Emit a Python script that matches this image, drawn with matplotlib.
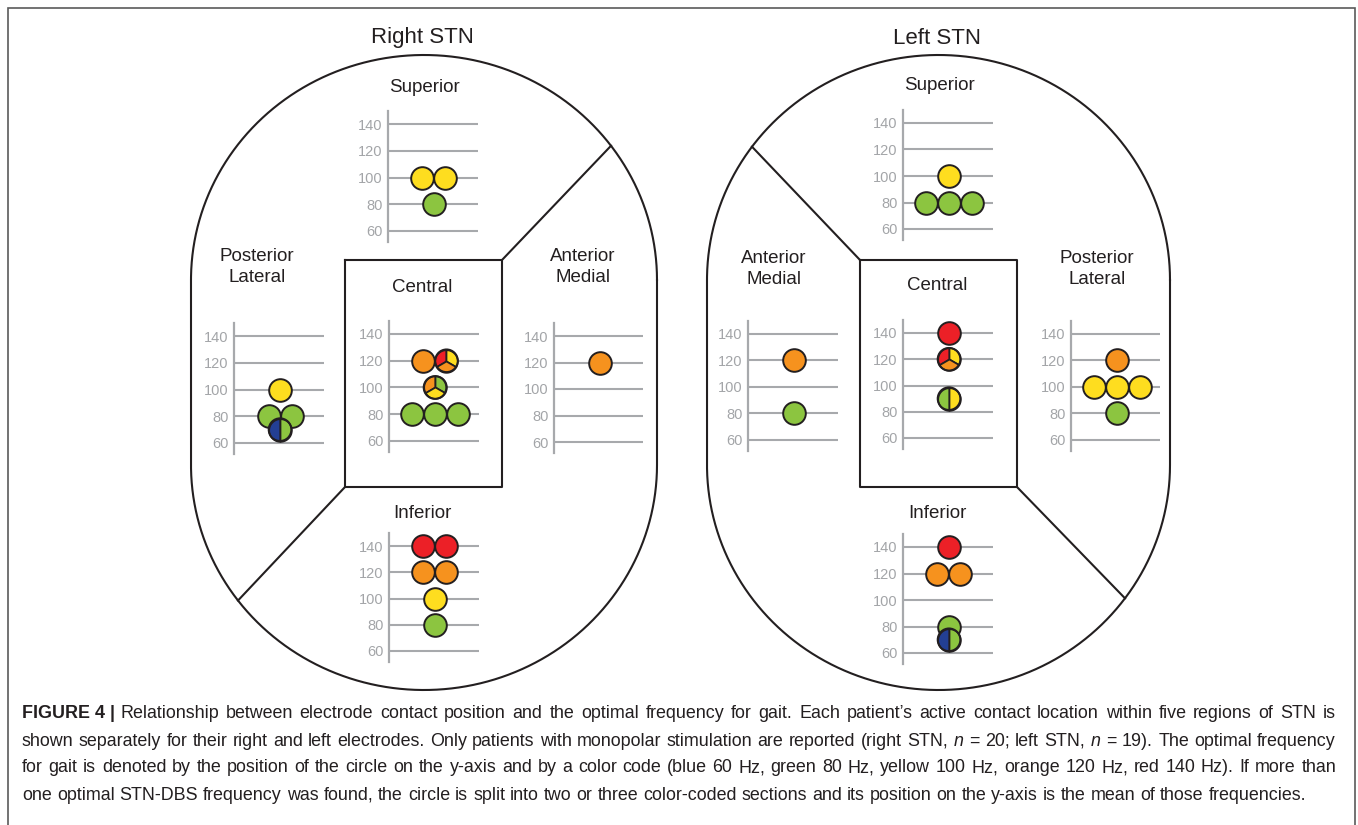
import numpy as np
import matplotlib
matplotlib.use('Agg')
import matplotlib.pyplot as plt
from matplotlib.path import Path

plt.rcParams['font.family'] = ['Liberation Sans', 'DejaVu Sans']
plt.rcParams['mathtext.fontset'] = 'custom'
plt.rcParams['mathtext.rm'] = 'Liberation Sans'
plt.rcParams['mathtext.it'] = 'Liberation Sans:italic'

W, H = 1358, 825

# ---------------- data ----------------
FREQ_TICKS = [60, 80, 100, 120, 140]
FREQ_COLORS = {60: '#233F94', 80: '#8CC540', 100: '#FEDD1F', 120: '#F6921E', 140: '#EC2027'}

# each circle = list of optimal frequencies (Hz) of one patient
# split circles: two parts -> [left, right]; three parts -> [upper-left, upper-right, bottom]
right_superior = [[100], [100], [80]]
right_posterior_lateral = [[100], [80], [80], [60, 80]]
right_central = [[120], [140, 100, 120], [120, 80, 100], [80], [80], [80]]
right_anterior_medial = [[120]]
right_inferior = [[140], [140], [120], [120], [100], [80]]

left_superior = [[100], [80], [80], [80]]
left_anterior_medial = [[120], [80]]
left_central = [[140], [140, 100, 120], [80, 100]]
left_posterior_lateral = [[120], [100], [100], [100], [80]]
left_inferior = [[140], [120], [120], [80], [60, 80]]

CAPTION_BOLD = "FIGURE 4 |"
CAPTION_LINES = [
    "Relationship between electrode contact position and the optimal frequency for gait. Each patient\u2019s active contact location within five regions of STN is",
    "shown separately for their right and left electrodes. Only patients with monopolar stimulation are reported (right STN, $n$ = 20; left STN, $n$ = 19). The optimal frequency",
    "for gait is denoted by the position of the circle on the y-axis and by a color code (blue 60 Hz, green 80 Hz, yellow 100 Hz, orange 120 Hz, red 140 Hz). If more than",
    "one optimal STN-DBS frequency was found, the circle is split into two or three color-coded sections and its position on the y-axis is the mean of those frequencies.",
]

# ---------------- layout ----------------
INK = '#231F20'
GRID = '#A7A9AC'
TICKC = '#A3A5A8'
SPACING = 23.0      # px between neighbouring circles
MS = 16.3           # marker diameter (pt)
ELW = 1.4

fig = plt.figure(figsize=(W / 100, H / 100), dpi=100)
bg = fig.add_axes([0, 0, 1, 1])
bg.set_xlim(0, W)
bg.set_ylim(H, 0)
bg.axis('off')

# outer frame
bg.plot([8, 8, 1355, 1355], [830, 8, 8, 830], color='#5A5A5A', lw=1.2, solid_joinstyle='miter')


def stadium(cx, rx, cyt, cyb, ry):
    t = np.linspace(0, np.pi, 200)
    xs = np.concatenate([cx + rx * np.cos(t), cx + rx * np.cos(t[::-1])])
    ys = np.concatenate([cyt - ry * np.sin(t), cyb + ry * np.sin(t[::-1])])
    xs = np.append(xs, xs[0]); ys = np.append(ys, ys[0])
    bg.plot(xs, ys, color=INK, lw=1.5)


def arc_y(cx, rx, cy, ry, x, top=True):
    c = (x - cx) / rx
    s = np.sqrt(max(0.0, 1 - c * c))
    return cy - ry * s if top else cy + ry * s


def box(x0, y0, x1, y1):
    bg.plot([x0, x1, x1, x0, x0], [y0, y0, y1, y1, y0], color=INK, lw=1.5)


# right STN outline
R = dict(cx=424, rx=233, cyt=280, cyb=465, ry=225)
stadium(R['cx'], R['rx'], R['cyt'], R['cyb'], R['ry'])
box(345, 260, 502, 487)
bg.plot([502, 611], [260, arc_y(R['cx'], R['rx'], R['cyt'], R['ry'], 611, True)], color=INK, lw=1.5)
bg.plot([345, 238], [487, arc_y(R['cx'], R['rx'], R['cyb'], R['ry'], 238, False)], color=INK, lw=1.5)

# left STN outline
L = dict(cx=938.5, rx=231.5, cyt=280, cyb=465, ry=225)
stadium(L['cx'], L['rx'], L['cyt'], L['cyb'], L['ry'])
box(860, 260, 1017, 487)
bg.plot([860, 752], [260, arc_y(L['cx'], L['rx'], L['cyt'], L['ry'], 752, True)], color=INK, lw=1.5)
bg.plot([1017, 1125], [487, arc_y(L['cx'], L['rx'], L['cyb'], L['ry'], 1125, False)], color=INK, lw=1.5)

# titles
TXT = dict(ha='center', va='center', color=INK)
bg.text(422, 37, 'Right STN', fontsize=16, **TXT)
bg.text(937, 38, 'Left STN', fontsize=16, **TXT)
for (x, y, s) in [(424, 87, 'Superior'), (257, 267, 'Posterior\nLateral'), (422, 287, 'Central'),
                  (583, 267, 'Anterior\nMedial'), (422, 513, 'Inferior'),
                  (939, 86, 'Superior'), (774, 269, 'Anterior\nMedial'), (937, 286, 'Central'),
                  (1097, 269, 'Posterior\nLateral'), (937, 514, 'Inferior')]:
    bg.text(x, y, s, fontsize=13.5, linespacing=1.3, **TXT)


def wedge_marker(a1, a2):
    ang = np.deg2rad(np.arange(a1, a2 + 1, 1.0))
    verts = np.vstack([[0, 0], np.column_stack([np.cos(ang), np.sin(ang)]), [0, 0]])
    codes = [Path.MOVETO] + [Path.LINETO] * (len(verts) - 2) + [Path.CLOSEPOLY]
    return Path(verts, codes)


def wedge_parts(n):
    if n == 2:
        return [(90, 270), (-90, 90)]
    return [(90, 210), (-30, 90), (210, 330)]


def draw_panel(circles, x0, y140, y60, x1):
    pxhz = (y60 - y140) / 80.0
    top_px = y140 - 13
    bot_px = y60 + 11
    ax = fig.add_axes([x0 / W, 1 - bot_px / H, (x1 - x0) / W, (bot_px - top_px) / H])
    ax.set_facecolor('none')
    ax.set_ylim(60 - 11 / pxhz, 140 + 13 / pxhz)
    cxp = x0 + 46
    ax.set_xlim(-(cxp - x0) / SPACING, (x1 - cxp) / SPACING)
    ax.set_yticks(FREQ_TICKS)
    ax.set_xticks([])
    ax.grid(axis='y', color=GRID, lw=1.5)
    ax.set_axisbelow(True)
    for sp in ['top', 'right', 'bottom']:
        ax.spines[sp].set_visible(False)
    ax.spines['left'].set_color(GRID)
    ax.spines['left'].set_linewidth(1.6)
    ax.tick_params(axis='y', length=0, pad=4, labelcolor=TICKC, labelsize=10.5)
    means = [float(np.mean(c)) for c in circles]
    rows = {}
    for i, m in enumerate(means):
        rows.setdefault(m, []).append(i)
    xs = [0.0] * len(circles)
    for m, idx in rows.items():
        k = len(idx)
        for j, i in enumerate(idx):
            xs[i] = j - (k - 1) / 2.0
    for i, c in enumerate(circles):
        if len(c) == 1:
            ax.scatter([xs[i]], [means[i]], s=MS ** 2, marker='o', facecolor=FREQ_COLORS[c[0]],
                       edgecolor=INK, linewidth=ELW, zorder=3 + i, clip_on=False)
        else:
            for f, (a1, a2) in zip(c, wedge_parts(len(c))):
                ax.scatter([xs[i]], [means[i]], s=MS ** 2, marker=wedge_marker(a1, a2),
                           facecolor=FREQ_COLORS[f], edgecolor=INK, linewidth=ELW * 0.9,
                           zorder=3 + i, clip_on=False)
            ax.scatter([xs[i]], [means[i]], s=MS ** 2, marker='o', facecolor='none',
                       edgecolor=INK, linewidth=ELW, zorder=3 + i, clip_on=False)
    return ax


draw_panel(right_superior, 388, 124, 231, 478)
draw_panel(right_posterior_lateral, 234, 336, 443, 324)
draw_panel(right_central, 389, 334, 441, 479)
draw_panel(right_anterior_medial, 554, 336, 442, 643)
draw_panel(right_inferior, 389, 546, 651, 479)

draw_panel(left_superior, 903, 123, 229, 993)
draw_panel(left_anterior_medial, 748, 334, 440, 838)
draw_panel(left_central, 903, 333, 438, 993)
draw_panel(left_posterior_lateral, 1071, 334, 440, 1160)
draw_panel(left_inferior, 903, 547, 653, 993)

# caption (justified lines except the last)
CAP_FS = 12.9
CAP_X0, CAP_X1 = 22, 1336
ys = [714, 741, 768, 795]
renderer = fig.canvas.get_renderer()


def px_width(t):
    return t.get_window_extent(renderer=renderer).width


bold = bg.text(CAP_X0, ys[0], CAPTION_BOLD, fontsize=CAP_FS, fontweight='bold', color=INK,
               ha='left', va='center')
bold_w = px_width(bold)
tmp1 = bg.text(100, 400, 'a b', fontsize=CAP_FS)
tmp2 = bg.text(100, 400, 'ab', fontsize=CAP_FS)
space_w = px_width(tmp1) - px_width(tmp2)
tmp1.remove()
tmp2.remove()

for li, (y, line) in enumerate(zip(ys, CAPTION_LINES)):
    start = CAP_X0 + (bold_w + space_w if li == 0 else 0)
    words = line.split(' ')
    objs = [bg.text(0, y, w, fontsize=CAP_FS, color=INK, ha='left', va='center') for w in words]
    widths = [px_width(o) for o in objs]
    if li < len(CAPTION_LINES) - 1:
        gap = (CAP_X1 - start - sum(widths)) / (len(words) - 1)
    else:
        gap = space_w
    x = start
    for o, w in zip(objs, widths):
        o.set_x(x)
        x += w + gap

fig.savefig('out.png', dpi=100)
